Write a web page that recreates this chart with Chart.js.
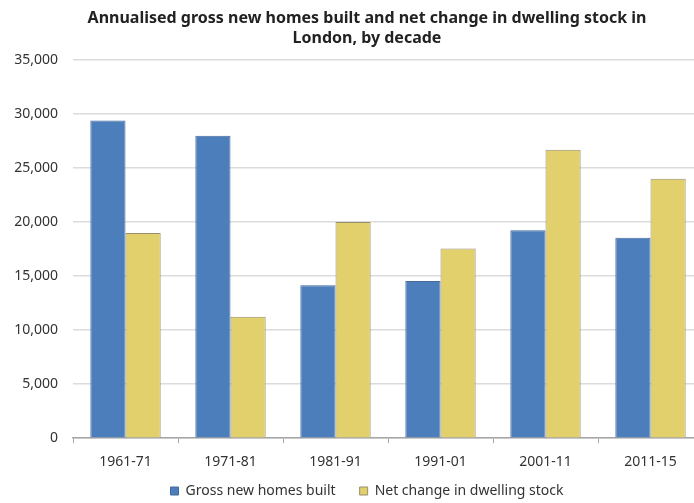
<!DOCTYPE html>
<html>
<head>
<meta charset="utf-8">
<script src="https://cdn.jsdelivr.net/npm/chart.js@4"></script>
<style>
  html, body { margin: 0; padding: 0; background: #fff; overflow: hidden; }
  #wrap { position: absolute; left: 0; top: 0; width: 734px; height: 503px; }
</style>
</head>
<body>
<div id="wrap"><canvas id="chart" width="734" height="503"></canvas></div>
<script>
const decades = ['1961-71', '1971-81', '1981-91', '1991-01', '2001-11', '2011-15']
const grossBuilt = [29400, 28000, 14150, 14550, 19250, 18550]
const netChange = [19000, 11250, 20000, 17550, 26700, 24000]
const yMax = 35000
const yStep = 5000

const font = "'Noto Sans', sans-serif"

// pull the legend up closer to the category labels
const legendLift = {
  id: 'legendLift',
  afterLayout(chart) {
    chart.legend.top -= 20
    chart.legend.bottom -= 20
  }
}

new Chart(document.querySelector('#chart').getContext('2d'), {
  type: 'bar',
  data: {
    labels: decades,
    datasets: [
      {
        label: 'Gross new homes built',
        data: grossBuilt,
        backgroundColor: '#4d7ebc',
        borderColor: '#44699a',
        borderWidth: 1
      },
      {
        label: 'Net change in dwelling stock',
        data: netChange,
        backgroundColor: '#e2d06c',
        borderColor: '#978f6c',
        borderWidth: 1
      }
    ]
  },
  plugins: [legendLift],
  options: {
    responsive: false,
    animation: false,
    layout: { padding: { left: 0, right: 0, top: 8, bottom: -25 } },
    datasets: { bar: { categoryPercentage: 0.67, barPercentage: 1.0 } },
    plugins: {
      title: {
        display: true,
        text: ['Annualised gross new homes built and net change in dwelling stock in', 'London, by decade'],
        color: '#222',
        font: { family: font, size: 16, weight: 'bold', lineHeight: 1.25 },
        padding: { top: 0, bottom: 12 }
      },
      legend: {
        position: 'bottom',
        labels: {
          color: '#333',
          font: { family: font, size: 14 },
          boxWidth: 8,
          boxHeight: 8,
          padding: 24
        }
      },
      tooltip: { enabled: false }
    },
    scales: {
      x: {
        grid: { display: true, drawOnChartArea: false, drawTicks: true, tickLength: 5, color: '#a6a6a6', offset: true },
        border: { display: true, color: '#a6a6a6', width: 1.5 },
        ticks: { color: '#333', font: { family: font, size: 14 }, padding: 10 }
      },
      y: {
        min: 0,
        max: yMax,
        afterFit: s => { s.width = 73 },
        grid: { color: '#dcdcdc', lineWidth: 1.5, drawTicks: false },
        border: { display: false },
        ticks: {
          stepSize: yStep,
          color: '#333',
          font: { family: font, size: 14 },
          padding: 15,
          callback: v => v.toLocaleString('en-GB')
        }
      },
      // empty right-hand axis: keeps the plot at the original width while the
      // title and legend stay centred on the full picture
      spacer: {
        position: 'right',
        afterFit: s => { s.width = 31 },
        grid: { display: false },
        border: { display: false },
        ticks: { display: false }
      }
    }
  }
})
</script>
</body>
</html>
